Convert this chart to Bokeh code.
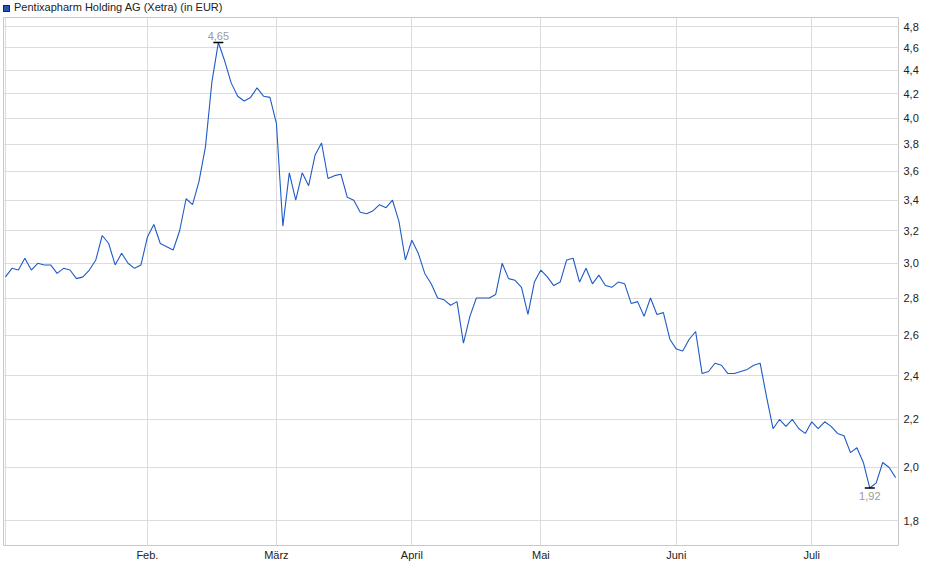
from bokeh.plotting import figure
from bokeh.models import Range1d, FixedTicker, CustomJSTickFormatter, ColumnDataSource, Div
from bokeh.layouts import column
from bokeh.core.properties import value
from bokeh.embed import file_html
from bokeh.resources import INLINE

TITLE = "Pentixapharm Holding AG (Xetra) (in EUR)"

# daily closing prices, trading days from 2 Jan to 18 Jul
close = [
    2.92, 2.97, 2.96, 3.03, 2.96, 3.00, 2.99, 2.99, 2.94, 2.97,
    2.96, 2.91, 2.92, 2.96, 3.02, 3.17, 3.12, 2.99, 3.06, 3.00,
    2.97, 2.99, 3.16, 3.24, 3.12, 3.10, 3.08, 3.20, 3.41, 3.37,
    3.53, 3.78, 4.30, 4.65, 4.48, 4.29, 4.18, 4.14, 4.17, 4.25,
    4.18, 4.17, 3.96, 3.23, 3.59, 3.40, 3.59, 3.50, 3.72, 3.81,
    3.55, 3.57, 3.58, 3.42, 3.40, 3.32, 3.31, 3.33, 3.37, 3.35,
    3.40, 3.26, 3.02, 3.14, 3.06, 2.94, 2.88, 2.80, 2.79, 2.76,
    2.78, 2.56, 2.70, 2.80, 2.80, 2.80, 2.82, 3.00, 2.91, 2.90,
    2.86, 2.71, 2.89, 2.96, 2.92, 2.87, 2.89, 3.02, 3.03, 2.89,
    2.97, 2.88, 2.93, 2.87, 2.86, 2.89, 2.88, 2.77, 2.78, 2.70,
    2.80, 2.71, 2.72, 2.58, 2.53, 2.52, 2.58, 2.62, 2.41, 2.42,
    2.46, 2.45, 2.41, 2.41, 2.42, 2.43, 2.45, 2.46, 2.30, 2.16,
    2.20, 2.17, 2.20, 2.16, 2.14, 2.19, 2.16, 2.19, 2.17, 2.14,
    2.13, 2.06, 2.08, 2.02, 1.92, 1.94, 2.02, 2.00, 1.96,
]
day = list(range(len(close)))

# first trading day of each month (index into close) and its label
month_ticks = [0, 22, 42, 63, 83, 104, 125]
month_labels = ["", "Feb.", "März", "April", "Mai", "Juni", "Juli"]

price_ticks = [1.8, 2.0, 2.2, 2.4, 2.6, 2.8, 3.0, 3.2, 3.4, 3.6, 3.8, 4.0, 4.2, 4.4, 4.6, 4.8]

FONT = "Liberation Sans"
GRID = "#dcdcdc"
LINE = "#1f5bc6"

p = figure(frame_width=895, frame_height=528, output_backend="svg", toolbar_location=None,
           y_axis_type="log", y_axis_location="right",
           x_range=Range1d(-0.31, 138.45), y_range=Range1d(1.713, 4.887),
           min_border_left=3, min_border_right=26, min_border_top=0, min_border_bottom=18)
p.background_fill_color = "white"
p.outline_line_color = "#c8c8c8"

p.line(day, close, line_color=LINE, line_width=1.1)

# highest and lowest close, marked with a dash and the value
i_hi = max(day, key=lambda i: close[i])
i_lo = min(day, key=lambda i: close[i])
marks = ColumnDataSource(data=dict(
    x=[i_hi, i_lo], y=[close[i_hi], close[i_lo]],
    txt=[f"{close[i_hi]:.2f}".replace(".", ","), f"{close[i_lo]:.2f}".replace(".", ",")],
))
p.scatter("x", "y", source=marks, marker="dash", size=10, line_color="black", line_width=1.4)
p.text(x=[i_hi], y=[close[i_hi]], text=[marks.data["txt"][0]], text_align="center",
       text_baseline="bottom", y_offset=-3, text_font=value(FONT), text_font_size="11px",
       text_color="#9a9a9a")
p.text(x=[i_lo], y=[close[i_lo]], text=[marks.data["txt"][1]], text_align="center",
       text_baseline="top", y_offset=4, text_font=value(FONT), text_font_size="11px",
       text_color="#9a9a9a")

# axes
p.xaxis.ticker = FixedTicker(ticks=month_ticks)
p.xaxis.major_label_overrides = dict(zip(month_ticks, month_labels))
p.yaxis.ticker = FixedTicker(ticks=price_ticks)
p.yaxis.formatter = CustomJSTickFormatter(code="return tick.toFixed(1).replace('.', ',')")
for ax in (p.xaxis, p.yaxis):
    ax.axis_line_color = None
    ax.major_tick_line_color = None
    ax.minor_tick_line_color = None
    ax.major_tick_in = 0
    ax.major_tick_out = 0
    ax.major_label_text_font = FONT
    ax.major_label_text_font_size = "11px"
    ax.major_label_text_color = "#222222"
p.xaxis.major_label_standoff = 3
p.yaxis.major_label_standoff = 5

p.xgrid.grid_line_color = GRID
p.ygrid.grid_line_color = GRID

# legend line above the frame: blue swatch and the series name
swatch = ('<span style="display:inline-block;width:7px;height:7px;background:#2356b8;'
          'border:1px solid #0d2a66;margin-right:4px;vertical-align:-1px"></span>')
header = Div(text=swatch + TITLE, width=921, height=17, margin=(0, 0, 0, 3),
             styles={"font-family": FONT, "font-size": "11px", "color": "#222222",
                     "line-height": "12px", "padding-top": "1px"})

layout = column(header, p, spacing=0)
open("out.html", "w").write(file_html(layout, INLINE))
